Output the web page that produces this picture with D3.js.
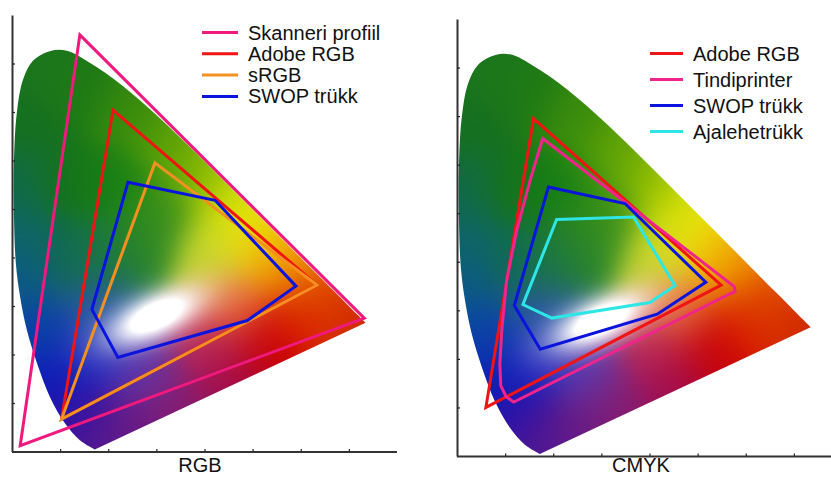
<!DOCTYPE html>
<html><head><meta charset="utf-8">
<script src="https://cdn.jsdelivr.net/npm/d3@7"></script>
<style>
body{margin:0;background:#fff}
svg{display:block}
text{font-family:"Liberation Sans",Arial,sans-serif;fill:#111}
</style>
</head><body>
<svg id="chart" width="831" height="477"></svg>
<script>
// ---------- data (CIE x,y chromaticity units) ----------
const locus = [
  [0.172,0.004],[0.141,0.023],[0.110,0.058],[0.079,0.112],[0.052,0.182],
  [0.031,0.250],[0.017,0.318],[0.008,0.388],[0.004,0.492],[0.004,0.595],
  [0.010,0.698],[0.023,0.767],[0.044,0.806],[0.080,0.826],[0.1142,0.8262],
  [0.1547,0.8059],[0.1929,0.7816],[0.2296,0.7543],[0.2658,0.7243],[0.3016,0.6923],
  [0.3373,0.6589],[0.3731,0.6245],[0.4087,0.5896],[0.4441,0.5547],[0.4788,0.5202],
  [0.5125,0.4866],[0.5448,0.4544],[0.5752,0.4242],[0.6029,0.3965],[0.6270,0.3725],
  [0.6658,0.3340],[0.6915,0.3083],[0.7079,0.2920],[0.7190,0.2809],[0.7347,0.2653]
];
const fieldColors = [
  [0.08,0.80,"#1c761c"],[0.03,0.68,"#157020"],[0.15,0.75,"#1e7a14"],[0.25,0.70,"#3a8c0c"],
  [0.33,0.63,"#5ea206"],[0.40,0.57,"#8cbc00"],[0.46,0.51,"#d0dc04"],[0.50,0.46,"#f0f010"],
  [0.54,0.42,"#f0b000"],[0.58,0.38,"#ee8a00"],[0.64,0.32,"#e05000"],[0.71,0.27,"#d02800"],
  [0.60,0.28,"#d81a00"],[0.52,0.22,"#c80008"],[0.44,0.16,"#a0084a"],[0.34,0.10,"#861a6e"],
  [0.24,0.05,"#6a1a84"],[0.17,0.02,"#501890"],[0.13,0.08,"#3010a8"],[0.09,0.15,"#0a1cb8"],
  [0.05,0.25,"#0a40a8"],[0.02,0.35,"#0c5a86"],[0.01,0.45,"#0e6468"],[0.015,0.55,"#106a44"],
  [0.12,0.55,"#157418"],[0.22,0.55,"#178014"],[0.12,0.40,"#106a50"],[0.18,0.30,"#2a5aa0"],
  [0.18,0.20,"#2a30c0"],[0.28,0.17,"#6038a8"],[0.40,0.22,"#c0305a"],[0.46,0.30,"#e87040"],
  [0.41,0.41,"#c8d830"],[0.27,0.43,"#2c8624"],[0.31,0.50,"#3a9018"],[0.20,0.40,"#1a7840"]
];
const xTicks = [0.1,0.2,0.3,0.4,0.5,0.6,0.7];
const yTicks = [0.1,0.2,0.3,0.4,0.5,0.6,0.7,0.8];

const skanneriProfiil = [[0.141,0.859],[0.732,0.275],[0.017,0.012]];
const adobeRgbLeft = [[0.210,0.704],[0.634,0.343],[0.103,0.067]];
const sRgb = [[0.297,0.595],[0.634,0.343],[0.103,0.067]];
const swopLeft = [[0.241,0.555],[0.422,0.518],[0.590,0.341],[0.489,0.270],[0.220,0.194],[0.166,0.293]];

const adobeRgbRight = [[0.159,0.695],[0.549,0.352],[0.060,0.100]];
const tindiprinter = [[0.178,0.654],[0.152,0.568],[0.124,0.464],[0.103,0.361],[0.093,0.258],
  [0.089,0.189],[0.091,0.145],[0.102,0.122],[0.118,0.111],[0.555,0.328],[0.578,0.339],[0.576,0.349]];
const swopRight = [[0.190,0.554],[0.349,0.520],[0.517,0.358],[0.416,0.292],[0.173,0.220],[0.119,0.310]];
const ajalehetrukk = [[0.207,0.487],[0.367,0.492],[0.453,0.351],[0.401,0.316],[0.197,0.284],[0.137,0.312]];

const leftNames = ["Skanneri profiil","Adobe RGB","sRGB","SWOP trükk"];
const leftSeries = [skanneriProfiil, adobeRgbLeft, sRgb, swopLeft];
const leftColors = ["#f0197d","#f01414","#f39020","#0a14dc"];
const rightNames = ["Adobe RGB","Tindiprinter","SWOP trükk","Ajalehetrükk"];
const rightSeries = [adobeRgbRight, tindiprinter, swopRight, ajalehetrukk];
const rightColors = ["#f01414","#f0248c","#0a14dc","#2ee6e6"];

// ---------- rendering ----------
const svg = d3.select("#chart");
const defs = svg.append("defs");
const anchors = fieldColors.map(d => { const c = d3.rgb(d[2]); return {x:d[0], y:d[1], r:c.r, g:c.g, b:c.b}; });

function colorAt(x, y) {
  const s2 = 2 * 0.05 * 0.05;
  let r=0,g=0,b=0,ws=1e-12;
  for (const a of anchors) {
    const dx = x-a.x, dy = y-a.y;
    const w = Math.exp(-(dx*dx+dy*dy)/s2);
    r += w*a.r; g += w*a.g; b += w*a.b; ws += w;
  }
  r/=ws; g/=ws; b/=ws;
  const th = 25*Math.PI/180, c = Math.cos(th), sn = Math.sin(th);
  const ux = x-0.30, uy = y-0.28;
  const u = ux*c+uy*sn, v = -ux*sn+uy*c;
  const wb = Math.min(1, 1.35*Math.exp(-((u/0.105)**2+(v/0.045)**2)));
  r += (255-r)*wb; g += (255-g)*wb; b += (255-b)*wb;
  return [r,g,b];
}

function drawPanel(opts) {
  const {id, xRange, yRange, axisY, axisXEnd, series, colors, names, legend, label, labelPos} = opts;
  const x = d3.scaleLinear().domain([0,0.8]).range(xRange);
  const y = d3.scaleLinear().domain([0,0.9]).range(yRange);
  const g = svg.append("g");

  const lineGen = d3.line().x(d=>x(d[0])).y(d=>y(d[1])).curve(d3.curveCatmullRom.alpha(0.5));
  const dPath = lineGen(locus) + "Z";
  defs.append("clipPath").attr("id", "clip"+id).append("path").attr("d", dPath);

  const x0 = Math.floor(x(0)), x1 = Math.ceil(x(0.75));
  const y0 = Math.floor(y(0.85)), y1 = Math.ceil(y(0));
  const w = x1-x0, h = y1-y0;
  const cv = document.createElement("canvas"); cv.width = w; cv.height = h;
  const ctx = cv.getContext("2d");
  const img = ctx.createImageData(w,h);
  for (let j=0;j<h;j++) for (let i=0;i<w;i++) {
    const col = colorAt(x.invert(x0+i+0.5), y.invert(y0+j+0.5));
    const k = (j*w+i)*4;
    img.data[k]=col[0]; img.data[k+1]=col[1]; img.data[k+2]=col[2]; img.data[k+3]=255;
  }
  ctx.putImageData(img,0,0);
  g.append("image").attr("href", cv.toDataURL()).attr("x", x0).attr("y", y0)
    .attr("width", w).attr("height", h).attr("clip-path", `url(#clip${id})`);

  const ya = g.append("g").attr("transform", `translate(${x(0)},0)`)
    .call(d3.axisRight(y).tickValues(yTicks).tickSize(3).tickSizeOuter(0).tickFormat(""));
  const xa = g.append("g").attr("transform", `translate(0,${axisY})`)
    .call(d3.axisTop(x).tickValues(xTicks).tickSize(3).tickSizeOuter(0).tickFormat(""));
  g.append("line").attr("x1", x(0)).attr("x2", axisXEnd).attr("y1", axisY).attr("y2", axisY)
    .attr("stroke", "#333").attr("stroke-width", 2);
  ya.select(".domain").attr("stroke", "#333").attr("stroke-width", 2);
  xa.select(".domain").remove();
  g.selectAll(".tick line").attr("stroke", "#222").attr("stroke-width", 1.2);

  const poly = d3.line().x(d=>x(d[0])).y(d=>y(d[1]));
  series.forEach((s, i) => {
    g.append("path").attr("d", poly(s)+"Z").attr("fill","none")
      .attr("stroke", colors[i]).attr("stroke-width", 3).attr("stroke-linejoin","miter");
  });

  const lg = g.append("g");
  names.forEach((n,i) => {
    const yy = legend.y0 + i*legend.dy;
    lg.append("line").attr("x1", legend.x1).attr("x2", legend.x2).attr("y1", yy).attr("y2", yy)
      .attr("stroke", colors[i]).attr("stroke-width", 3);
    lg.append("text").attr("x", legend.tx).attr("y", yy).attr("dy","0.35em")
      .attr("font-size", 20).text(n);
  });

  g.append("text").attr("x", labelPos[0]).attr("y", labelPos[1]).attr("text-anchor","middle")
    .attr("font-size", 20).text(label);
}

drawPanel({id:"L", xRange:[12,397], yRange:[451.5,15], axisY:452, axisXEnd:397,
  series:leftSeries, colors:leftColors, names:leftNames,
  legend:{x1:202,x2:238,tx:248,y0:32.5,dy:21.3}, label:"RGB", labelPos:[200,472]});
drawPanel({id:"R", xRange:[457,842], yRange:[456,19], axisY:456.5, axisXEnd:831,
  series:rightSeries, colors:rightColors, names:rightNames,
  legend:{x1:650,x2:683,tx:693,y0:53.5,dy:26}, label:"CMYK", labelPos:[641,472]});
</script>
</body></html>
